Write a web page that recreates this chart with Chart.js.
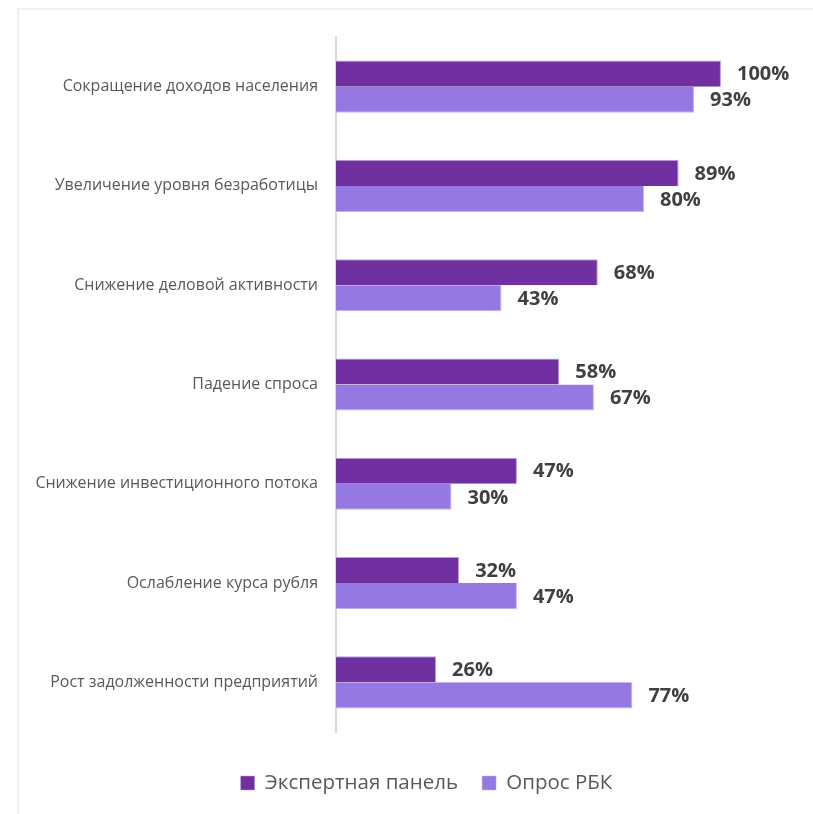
<!DOCTYPE html>
<html>
<head>
<meta charset="utf-8">
<script src="https://cdn.jsdelivr.net/npm/chart.js@4.4.1/dist/chart.umd.min.js"></script>
<style>
  html, body { margin: 0; padding: 0; background: #ffffff; overflow: hidden; }
  #frame {
    position: absolute; left: 17px; top: 8px; width: 800px; height: 820px;
    border-top: 2px solid #f0f0f0; border-left: 2px solid #f0f0f0;
    box-sizing: border-box;
  }
  #wrap { position: absolute; left: 0; top: 0; width: 813px; height: 814px; overflow: hidden; }
</style>
</head>
<body>
<div id="frame"></div>
<div id="wrap"><canvas id="chart" width="853" height="814"></canvas></div>
<script>
const categories = [
  'Сокращение доходов населения',
  'Увеличение уровня безработицы',
  'Снижение деловой активности',
  'Падение спроса',
  'Снижение инвестиционного потока',
  'Ослабление курса рубля',
  'Рост задолженности предприятий'
];
const seriesNames = ['Экспертная панель', 'Опрос РБК'];
const expertValues = [100, 89, 68, 58, 47, 32, 26];
const rbcValues = [93, 80, 43, 67, 30, 47, 77];

const DARK = '#7030a0';
const LIGHT = '#9678e2';

// Percent labels to the right of each bar
const valueLabels = {
  id: 'valueLabels',
  afterDatasetsDraw(chart) {
    const ctx = chart.ctx;
    ctx.save();
    ctx.font = 'bold 20px "Open Sans"';
    ctx.fillStyle = '#404040';
    ctx.textAlign = 'left';
    ctx.textBaseline = 'middle';
    chart.data.datasets.forEach((ds, di) => {
      const meta = chart.getDatasetMeta(di);
      meta.data.forEach((bar, i) => {
        ctx.fillText(ds.data[i] + '%', bar.x + 16, bar.y + 1);
      });
    });
    ctx.restore();
  }
};

new Chart(document.getElementById('chart'), {
  type: 'bar',
  data: {
    labels: categories,
    datasets: [
      { label: seriesNames[0], data: expertValues, backgroundColor: DARK,
        borderColor: '#b9a0dc', borderWidth: { top: 1, right: 1, bottom: 0, left: 0 } },
      { label: seriesNames[1], data: rbcValues, backgroundColor: LIGHT,
        borderColor: '#c4b2ee', borderWidth: { top: 0, right: 1, bottom: 1, left: 0 } }
    ]
  },
  options: {
    indexAxis: 'y',
    responsive: false,
    devicePixelRatio: 1,
    animation: false,
    layout: { padding: { top: 37, left: 0, right: 0, bottom: 10.75 } },
    datasets: { bar: { categoryPercentage: 0.525, barPercentage: 1 } },
    scales: {
      x: {
        min: 0, max: 134.3,
        grid: { display: false },
        border: { display: false },
        ticks: { display: false },
        afterFit(s) { s.height = 16.75; }
      },
      y: {
        grid: { display: false, drawTicks: false },
        border: { display: true, color: '#d9d9d9', width: 2 },
        ticks: {
          color: '#595959',
          padding: 18,
          font: { family: '"Open Sans"', size: 16 }
        },
        afterFit(s) { s.width = 336; }
      }
    },
    plugins: {
      legend: {
        position: 'bottom',
        labels: {
          boxWidth: 14, boxHeight: 14, padding: 24,
          color: '#595959',
          font: { family: '"Open Sans"', size: 20.5 }
        }
      },
      tooltip: { enabled: false }
    }
  },
  plugins: [valueLabels]
});
</script>
</body>
</html>
